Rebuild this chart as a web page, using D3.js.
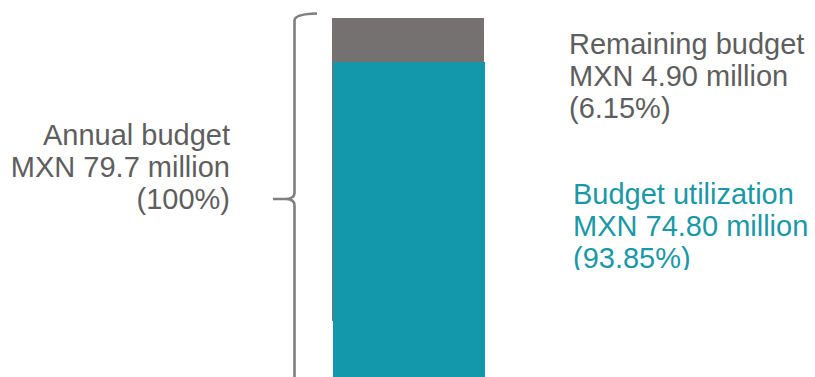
<!DOCTYPE html>
<html>
<head>
<meta charset="utf-8">
<script src="https://cdn.jsdelivr.net/npm/d3@7"></script>
<style>
  html, body { margin: 0; padding: 0; background: #fff; }
  svg { display: block; }
  text { font-family: "Liberation Sans", Arial, sans-serif; }
</style>
</head>
<body>
<svg id="chart" width="815" height="377"></svg>
<script>
// ---- data ----
const categories = ["Budget"];
const totalBudget = [79.7];
const utilized = [74.80];
const remaining = [4.90];
const annualLabel = ["Annual budget", "MXN 79.7 million", "(100%)"];
const remainingLabel = ["Remaining budget", "MXN 4.90 million", "(6.15%)"];
const utilizedLabel = ["Budget utilization", "MXN 74.80 million", "(93.85%)"];

// ---- layout ----
const W = 815, H = 377;
const svg = d3.select("#chart");
const grey = "#767171", teal = "#1397ab";
const textGrey = "#5e5e5e", textTeal = "#1a98a8";
const fontSize = 29, lineH = 31.8;

const y = d3.scaleLinear().domain([0, totalBudget[0]]).range([734, 18]);
const x = d3.scaleBand().domain(categories).range([332, 484]).padding(0);

// total (grey) bar
const greyBottom = 321;
svg.selectAll("rect.total").data(categories).join("rect")
  .attr("class", "total")
  .attr("x", d => x(d))
  .attr("y", (d, i) => y(totalBudget[i]))
  .attr("width", x.bandwidth())
  .attr("height", (d, i) => greyBottom - y(totalBudget[i]))
  .attr("fill", grey);

// utilized (teal) bar
svg.selectAll("rect.used").data(categories).join("rect")
  .attr("class", "used")
  .attr("x", d => x(d) + 1)
  .attr("y", (d, i) => y(utilized[i]))
  .attr("width", x.bandwidth())
  .attr("height", (d, i) => y(0) - y(utilized[i]))
  .attr("fill", teal);

// brace
const bx = 294.5, braceTop = 13.5, braceMid = 199, braceBot = 385, tipX = 273, endX = 317;
const p = d3.path();
p.moveTo(endX, braceTop);
p.quadraticCurveTo(bx, braceTop + 0.5, bx, braceTop + 7);
p.lineTo(bx, braceMid - 6);
p.quadraticCurveTo(bx, braceMid, tipX + 12, braceMid);
p.lineTo(tipX, braceMid);
p.moveTo(tipX + 12, braceMid);
p.quadraticCurveTo(bx, braceMid, bx, braceMid + 6);
p.lineTo(bx, braceBot - 7);
p.quadraticCurveTo(bx, braceBot - 0.5, endX, braceBot);
svg.append("path").attr("d", p.toString())
  .attr("fill", "none").attr("stroke", "#7f7f7f").attr("stroke-width", 2.6);

function block(lines, xPos, baseY, anchor, color, clipId) {
  const g = svg.append("g");
  if (clipId) g.attr("clip-path", `url(#${clipId})`);
  g.selectAll("text").data(lines).join("text")
    .attr("x", xPos)
    .attr("y", (d, i) => baseY + i * lineH)
    .attr("text-anchor", anchor)
    .attr("font-size", fontSize)
    .attr("fill", color)
    .text(d => d);
}

const defs = svg.append("defs");
defs.append("clipPath").attr("id", "clipUtil")
  .append("rect").attr("x", 0).attr("y", 0).attr("width", W).attr("height", 270);

block(annualLabel, 230, 145, "end", textGrey);
block(remainingLabel, 569, 54, "start", textGrey);
block(utilizedLabel, 573, 204, "start", textTeal, "clipUtil");
</script>
</body>
</html>
